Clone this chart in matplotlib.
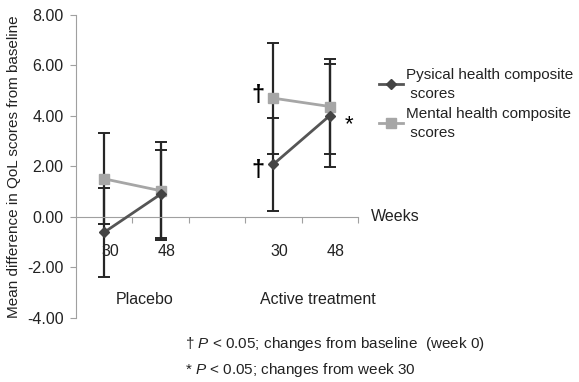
import numpy as np
import matplotlib
matplotlib.use("Agg")
import matplotlib.pyplot as plt

plt.rcParams['font.family'] = ['Liberation Sans', 'DejaVu Sans']
plt.rcParams['mathtext.fontset'] = 'custom'
plt.rcParams['mathtext.it'] = 'Liberation Sans:italic'
plt.rcParams['mathtext.rm'] = 'Liberation Sans'

# data (gap in the middle separates the two groups)
weeks = ['30', '48', '', '30', '48']
groups = ['Placebo', 'Active treatment']
physical = [-0.62, 0.89, np.nan, 2.08, 4.01]
physical_err = [1.76, 1.75, np.nan, 1.85, 2.05]
mental = [1.50, 1.03, np.nan, 4.70, 4.37]
mental_err = [1.80, 1.95, np.nan, 2.20, 1.90]
yticks = [-4, -2, 0, 2, 4, 6, 8]

W, H = 579, 382
fs = 11.5
txt = '#222222'
fig = plt.figure(figsize=(W / 100, H / 100), dpi=100)
ax = fig.add_axes([76 / W, 1 - 317.5 / H, 282 / W, 302.5 / H])

x = np.arange(len(weeks))
phys = np.array(physical)
ment = np.array(mental)

ax.errorbar(x, phys, yerr=physical_err, fmt='none', ecolor='#262626',
            elinewidth=1.6, capsize=4, capthick=1.4, zorder=2)
ax.errorbar(x, ment, yerr=mental_err, fmt='none', ecolor='#262626',
            elinewidth=1.6, capsize=4, capthick=1.4, zorder=2)
ax.plot(x, ment, color='#a6a6a6', lw=2, marker='s', ms=7,
        mfc='#a6a6a6', mec='#a6a6a6', zorder=3,
        label='Mental health composite\n scores')
ax.plot(x, phys, color='#555555', lw=2, marker='D', ms=5.5,
        mfc='#444444', mec='#444444', zorder=4,
        label='Pysical health composite\n scores')

ax.set_xlim(-0.5, len(weeks) - 0.5)
ax.set_ylim(-4, 8)
ax.set_yticks(yticks)
ax.set_yticklabels(['%.2f' % v for v in yticks], fontsize=fs, color=txt)
ax.tick_params(axis='y', direction='out', length=4, width=0.8, color='#a0a0a0', pad=5)

for s in ['top', 'right']:
    ax.spines[s].set_visible(False)
ax.spines['left'].set_color('#a0a0a0')
ax.spines['bottom'].set_color('#a0a0a0')
ax.spines['bottom'].set_position(('data', 0))

ax.set_xticks([i + 0.1 for i, w in enumerate(weeks) if w])
ax.set_xticklabels([w for w in weeks if w], fontsize=fs, color=txt)
ax.set_xticks(np.arange(len(weeks)) + 0.5, minor=True)
ax.tick_params(axis='x', which='major', length=0, pad=20)
ax.tick_params(axis='x', which='minor', direction='out', length=4,
               width=0.8, color='#a0a0a0')

ax.text(0.72, -3.3, groups[0], ha='center', va='center', fontsize=fs, color=txt)
ax.text(3.78, -3.3, groups[1], ha='center', va='center', fontsize=fs, color=txt)

ax.set_ylabel('Mean difference in QoL scores from baseline', fontsize=11,
              color=txt, labelpad=4)

# significance marks
ax.text(2.73, 4.8, '\u2020', fontsize=17, fontweight='bold', ha='center', va='center')
ax.text(2.73, 1.85, '\u2020', fontsize=17, fontweight='bold', ha='center', va='center')
ax.text(4.34, 3.65, '*', fontsize=16, ha='center', va='center')

fig.text(371 / W, 1 - 216 / H, 'Weeks', fontsize=fs, va='center', color=txt)

h, l = ax.get_legend_handles_labels()
leg = fig.legend(h[::-1], l[::-1], loc='upper left',
                 bbox_to_anchor=(371 / W, 1 - 60 / H), frameon=False,
                 fontsize=11, handlelength=1.6, handletextpad=0.2,
                 labelspacing=0.4, borderpad=0)
for t in leg.get_texts():
    t.set_linespacing(1.45)
    t.set_color(txt)

fig.text(185 / W, 1 - 344 / H, '\u2020 $\\it{P}$ < 0.05; changes from baseline  (week 0)',
         fontsize=11, va='center', color=txt)
fig.text(185 / W, 1 - 370 / H, '* $\\it{P}$ < 0.05; changes from week 30',
         fontsize=11, va='center', color=txt)

fig.savefig('out.png', dpi=100)
